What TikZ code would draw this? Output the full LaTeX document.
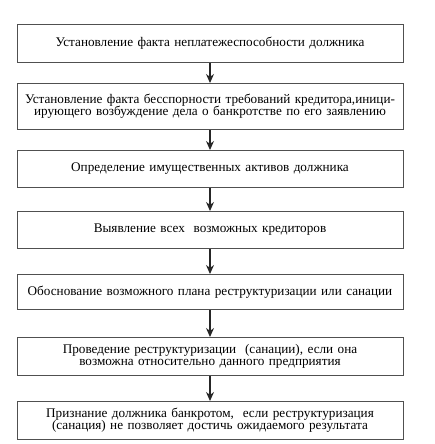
\documentclass[tikz,border=0pt]{standalone}
\usepackage{fontspec}
\setmainfont{Liberation Serif}
\usetikzlibrary{arrows.meta, positioning}
\definecolor{boxline}{RGB}{80, 80, 80}

\begin{document}
\begin{tikzpicture}[
    x=1pt, y=1pt,
    every node/.style={font=\fontsize{13.2}{12.3}\selectfont},
    stage/.style={rectangle, minimum width=386pt, text width=384pt, align=center, inner sep=0pt, draw=boxline, line width=1pt, fill=white},
    arrow/.style={-{Stealth[length=9pt, width=8pt]}, line width=1.2pt, color=black!85}
]
\useasboundingbox (0,0) rectangle (434,-444);

\node[stage, minimum height=38pt, anchor=north] (insolv) at (210,-24) {Установление факта неплатежеспособности должника};

\node[stage, minimum height=46pt, below=20pt of insolv] (claims) {Установление факта бесспорности требований кредитора,иници-\\ирующего возбуждение дела о банкротстве по его заявлению};

\node[stage, minimum height=37pt, below=20pt of claims] (assets) {Определение имущественных активов должника};

\node[stage, minimum height=37pt, below=23pt of assets] (creditors) {Выявление всех \ возможных кредиторов};

\node[stage, minimum height=35pt, below=25pt of creditors] (plan) {Обоснование возможного плана реструктуризации или санации};

\node[stage, minimum height=38pt, below=27pt of plan] (restruct) {Проведение реструктуризации \ (санации), если она\\возможна относительно данного предприятия};

\node[stage, minimum height=38pt, below=25pt of restruct] (bankrupt) {Признание должника банкротом, \ если реструктуризация\\(санация) не позволяет достичь ожидаемого результата};

\draw[arrow] (insolv) -- (claims);
\draw[arrow] (claims) -- (assets);
\draw[arrow] (assets) -- (creditors);
\draw[arrow] (creditors) -- (plan);
\draw[arrow] (plan) -- (restruct);
\draw[arrow] (restruct) -- (bankrupt);

\end{tikzpicture}
\end{document}
